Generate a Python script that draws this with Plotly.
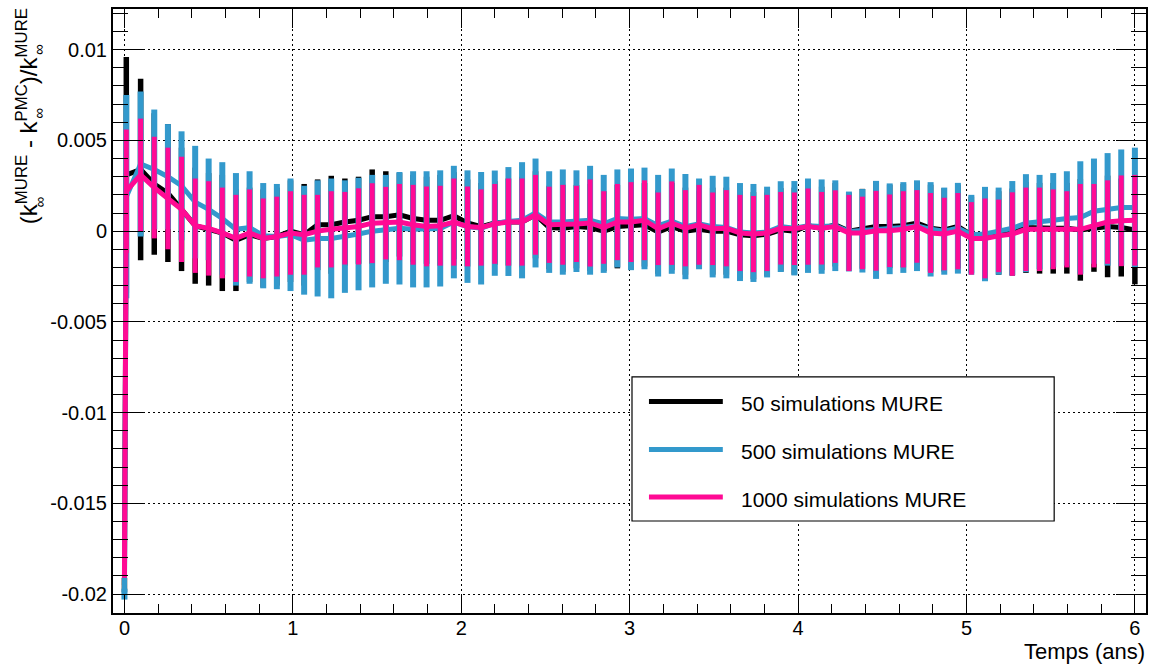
import plotly.graph_objects as go

# ---------------- data ----------------
t = [0.0, 0.011, 0.096, 0.177, 0.258, 0.339, 0.420, 0.500, 0.581, 0.662, 0.743, 0.824,
     0.905, 0.986, 1.067, 1.147, 1.228, 1.309, 1.390, 1.471, 1.552, 1.633, 1.714, 1.794,
     1.875, 1.956, 2.037, 2.118, 2.199, 2.280, 2.361, 2.441, 2.522, 2.603, 2.684, 2.765,
     2.846, 2.927, 3.008, 3.088, 3.169, 3.250, 3.331, 3.412, 3.493, 3.574, 3.655, 3.735,
     3.816, 3.897, 3.978, 4.059, 4.140, 4.221, 4.302, 4.382, 4.463, 4.544, 4.625, 4.706,
     4.787, 4.868, 4.949, 5.029, 5.110, 5.191, 5.272, 5.353, 5.434, 5.515, 5.596, 5.676,
     5.757, 5.838, 5.919, 6.000]

mure50 = [-0.0195, 0.0031,
          0.0034, 0.0026, 0.0021, 0.0012, 0.0003, 0.0001, -0.0001, -0.0005, -0.0002, -0.0004,
          -0.0003, 0.0000, -0.0002, 0.00035, 0.00035, 0.0005, 0.0006, 0.0008, 0.0008, 0.0009,
          0.0007, 0.0006, 0.0006, 0.00085, 0.00045, 0.00025, 0.00045, 0.0005, 0.0005, 0.0009,
          0.0002, 0.00016, 0.00025, 0.0002, 0.0000, 0.00025, 0.0003, 0.00035, -0.00005, 0.00025,
          0.0000, 0.0001, 0.0000, 0.0000, -0.0002, -0.00025, -0.00017, 0.00007, 0.0000, 0.0003,
          0.00015, 0.00035, 0.0000, 0.00013, 0.00026, 0.00026, 0.0003, 0.00044, 0.00016, 0.00007,
          0.00026, -0.0002, -0.0003, -0.0001, -0.00005, 0.0002, 0.00016, 0.00016, 0.00016, 0.00007,
          0.00016, 0.00026, 0.0002, 0.00007]
err50 = [0.0004, 0.0065,
         0.0050, 0.0039, 0.0038, 0.0034, 0.0032, 0.0031, 0.0032, 0.0028, 0.0026, 0.0027,
         0.0027, 0.0028, 0.0028, 0.0025, 0.0027, 0.0024, 0.0024, 0.0026, 0.0025, 0.0023,
         0.0024, 0.0024, 0.0025, 0.0024, 0.0024, 0.0024, 0.0023, 0.0024, 0.0025, 0.0024,
         0.0023, 0.0024, 0.0023, 0.0024, 0.0022, 0.0023, 0.0023, 0.0023, 0.0023, 0.0024,
         0.0024, 0.0021, 0.0024, 0.0024, 0.0024, 0.0024, 0.0023, 0.0023, 0.0024, 0.0023,
         0.0023, 0.0023, 0.0021, 0.0022, 0.0025, 0.0023, 0.0023, 0.0023, 0.0024, 0.0023,
         0.0023, 0.0021, 0.0024, 0.0023, 0.0024, 0.0025, 0.0025, 0.0025, 0.0025, 0.0028,
         0.0024, 0.0028, 0.0027, 0.0030]

mure500 = [-0.0200, 0.0019,
           0.0037, 0.0034, 0.0030, 0.0025, 0.0016, 0.0012, 0.0007, 0.0001, 0.0002, -0.00025,
           -0.0003, -0.0002, -0.0005, -0.0004, -0.0004, -0.0003, -0.00016, 0.0000, 0.0001, 0.00016,
           0.0001, 0.0001, 0.00015, 0.0005, 0.00025, 0.00016, 0.00044, 0.00053, 0.0006, 0.0010,
           0.0005, 0.0005, 0.00055, 0.0006, 0.0004, 0.0007, 0.00065, 0.0007, 0.0003, 0.00055,
           0.00025, 0.0004, 0.00025, 0.0002, -0.00005, -0.0001, -0.00005, 0.00025, 0.00016, 0.0003,
           0.00025, 0.0003, -0.00002, 0.00002, 0.00007, 0.00013, 0.0002, 0.0003, 0.0001, 0.0000,
           0.00016, -0.0002, -0.00016, 0.0000, 0.00016, 0.00044, 0.0005, 0.0006, 0.0007, 0.00075,
           0.0011, 0.0012, 0.0013, 0.0013]
err500 = [0.0003, 0.0056,
          0.0040, 0.0033, 0.0029, 0.0030, 0.0031, 0.0028, 0.0031, 0.0031, 0.0031, 0.0029,
          0.0029, 0.0031, 0.0030, 0.0032, 0.0033, 0.0031, 0.0031, 0.0031, 0.0030, 0.0031,
          0.0032, 0.0032, 0.0032, 0.0031, 0.0031, 0.0031, 0.0029, 0.0030, 0.0032, 0.0030,
          0.0028, 0.0029, 0.0028, 0.0030, 0.0027, 0.0027, 0.0028, 0.0028, 0.0028, 0.0029,
          0.0029, 0.0025, 0.0028, 0.0028, 0.0027, 0.0027, 0.0025, 0.0025, 0.0026, 0.0026,
          0.0026, 0.0025, 0.0022, 0.0023, 0.0027, 0.0025, 0.0025, 0.0025, 0.0026, 0.0024,
          0.0025, 0.0022, 0.0026, 0.0024, 0.0026, 0.0027, 0.0026, 0.0026, 0.0026, 0.0031,
          0.0029, 0.0031, 0.0032, 0.0033]

mure1000 = [-0.0190, 0.0022,
            0.0031, 0.0024, 0.0018, 0.0012, 0.0003, 0.00015, -0.0001, -0.0004, -0.0001, -0.0004,
            -0.0003, -0.0001, -0.0002, 0.0000, 0.0001, 0.00016, 0.00026, 0.00044, 0.00044, 0.0005,
            0.00035, 0.00026, 0.0003, 0.0005, 0.00026, 0.0002, 0.0004, 0.0005, 0.0005, 0.0009,
            0.00035, 0.00035, 0.0004, 0.00045, 0.0002, 0.0005, 0.0005, 0.0006, 0.00013, 0.00044,
            0.00016, 0.00035, 0.00013, 0.00016, -0.0001, -0.00016, -0.0001, 0.00016, 0.00013, 0.00025,
            0.00016, 0.00025, -0.0001, -0.0001, 0.00002, 0.00002, 0.0001, 0.00026, -0.0001, -0.00016,
            0.0000, -0.0004, -0.0004, -0.00026, -0.00016, 0.0001, 0.0001, 0.0001, 0.0001, 0.0001,
            0.0003, 0.0005, 0.00057, 0.0006]
err1000 = [0.0001, 0.0034,
           0.0031, 0.0028, 0.0028, 0.0029, 0.0026, 0.0026, 0.0025, 0.0024, 0.0024, 0.0022,
           0.0022, 0.0023, 0.0022, 0.0020, 0.0021, 0.0020, 0.0021, 0.0022, 0.0020, 0.0021,
           0.0022, 0.0022, 0.0022, 0.0024, 0.0022, 0.0021, 0.0022, 0.0024, 0.0024, 0.0022,
           0.0021, 0.0022, 0.0021, 0.0024, 0.0020, 0.0021, 0.0022, 0.0022, 0.0020, 0.0023,
           0.0021, 0.0022, 0.0020, 0.0021, 0.0021, 0.0021, 0.0021, 0.0020, 0.0020, 0.0021,
           0.0020, 0.0020, 0.0021, 0.0020, 0.0022, 0.0020, 0.0021, 0.0020, 0.0022, 0.0020,
           0.0021, 0.0020, 0.0022, 0.0020, 0.0023, 0.0023, 0.0023, 0.0022, 0.0021, 0.0025,
           0.0023, 0.0023, 0.0025, 0.0025]

series_names = ["50 simulations MURE", "500 simulations MURE", "1000 simulations MURE"]
series_vals = [mure50, mure500, mure1000]
series_errs = [err50, err500, err1000]
series_colors = ["#000000", "#3399cc", "#ff0a94"]
bar_thick = [5.5, 6, 5]

x_ticks = [0, 1, 2, 3, 4, 5, 6]
y_ticks = [-0.02, -0.015, -0.01, -0.005, 0, 0.005, 0.01]
y_ticktext = ["-0.02", "-0.015", "-0.01", "-0.005", "0", "0.005", "0.01"]

# ---------------- layout helpers ----------------
W, H = 1155, 666
L, R, T, B = 113, 7, 7, 53
PW, PH = W - L - R, H - T - B


def px(x):
    return (x - L) / PW


def py(y):
    return (H - B - y) / PH


FONT = "Liberation Sans, Arial, Helvetica, sans-serif"

fig = go.Figure()
for name, v, e, c, th in zip(series_names, series_vals, series_errs, series_colors, bar_thick):
    fig.add_trace(go.Scatter(
        x=t, y=v, mode="lines", name=name,
        line=dict(color=c, width=5),
        error_y=dict(type="data", array=e, visible=True, width=0, thickness=th, color=c),
        showlegend=False, hoverinfo="skip"))

axis_common = dict(
    showline=True, linecolor="black", linewidth=2, mirror="ticks",
    ticks="inside", tickcolor="black", tickwidth=1,
    showgrid=True, gridcolor="black", gridwidth=1, griddash="2px,3px",
    zeroline=False,
    tickfont=dict(family=FONT, size=20, color="black"),
)

fig.update_layout(
    width=W, height=H,
    margin=dict(l=L, r=R, t=T, b=B, pad=0),
    paper_bgcolor="white", plot_bgcolor="white",
    showlegend=False,
    xaxis=dict(axis_common, range=[-0.068, 6.066], tickmode="array", tickvals=x_ticks,
               ticktext=[str(v) for v in x_ticks], ticklen=19, ticklabelstandoff=-4,
               minor=dict(dtick=0.2, tick0=0, ticklen=9, ticks="inside", tickcolor="black",
                          tickwidth=1, showgrid=False)),
    yaxis=dict(axis_common, range=[-0.02104, 0.01224], tickmode="array", tickvals=y_ticks,
               ticktext=y_ticktext, ticklen=30,
               minor=dict(dtick=0.001, tick0=0, ticklen=15, ticks="inside", tickcolor="black",
                          tickwidth=1, showgrid=False)),
)

# x-axis title (right aligned, ROOT style)
fig.add_annotation(text="Temps (ans)", xref="paper", yref="paper", x=px(1149), y=py(637),
                   xanchor="right", yanchor="top", showarrow=False,
                   font=dict(family=FONT, size=22, color="black"))

# y-axis title (rotated)
fig.add_annotation(text="(k<sup>MURE</sup> - k<sup>PMC</sup>)/k<sup>MURE</sup>",
                   xref="paper", yref="paper", x=px(27), y=py(4),
                   xanchor="center", yanchor="top", textangle=-90, showarrow=False,
                   font=dict(family=FONT, size=24, color="black"))
for yy in [201, 112, 48]:
    fig.add_annotation(text="∞", xref="paper", yref="paper", x=px(39), y=py(yy),
                       xanchor="center", yanchor="middle", textangle=-90, showarrow=False,
                       font=dict(family=FONT, size=15, color="black"))

# legend box drawn manually
fig.add_shape(type="rect", xref="paper", yref="paper", x0=px(633), x1=px(1056),
              y0=py(520.7), y1=py(376), line=dict(color="black", width=1.2),
              fillcolor="white", layer="above")
leg_y = [400.7, 449, 496.7]
for name, c, yy in zip(series_names, series_colors, leg_y):
    fig.add_shape(type="line", xref="paper", yref="paper", x0=px(650), x1=px(724),
                  y0=py(yy), y1=py(yy), line=dict(color=c, width=5), layer="above")
    fig.add_annotation(text=name, xref="paper", yref="paper", x=px(740), y=py(yy + 2),
                       xanchor="left", yanchor="middle", showarrow=False,
                       font=dict(family=FONT, size=21, color="black"))

fig.write_html("out.html", config={"displayModeBar": False},
               post_script="document.body.style.margin='0';document.body.style.padding='0';"
                           "document.body.style.overflow='hidden';")
